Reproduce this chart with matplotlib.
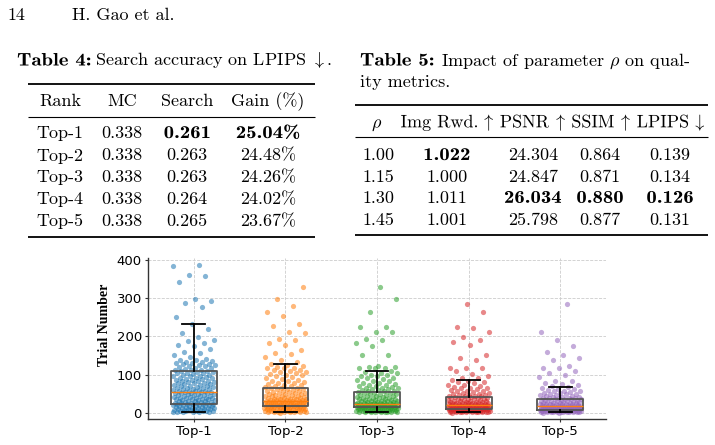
import matplotlib
matplotlib.use('Agg')
import matplotlib.pyplot as plt
import numpy as np
from matplotlib.textpath import TextPath
from matplotlib.patches import PathPatch
from matplotlib.font_manager import FontProperties
from matplotlib.transforms import Affine2D

plt.rcParams['mathtext.fontset'] = 'cm'

# ---------------- data ----------------
ranks = ['Top-1', 'Top-2', 'Top-3', 'Top-4', 'Top-5']
q1 = [24, 17, 15, 10, 8]
med = [54, 30, 23, 21, 17]
q3 = [109, 64, 54, 41, 37]
whis_lo = [1, 1, 1, 1, 1]
whis_hi = [233, 128, 110, 86, 67]

trials_top1 = [386, 384, 360, 356, 341, 297, 291, 287, 276, 251,
               233, 219, 208, 199, 190, 188, 183, 176, 174, 167, 158, 156, 151, 145, 141, 137, 134, 133,
               130, 127, 126, 123, 121, 117, 115, 113, 112, 110,
               108, 106, 105, 103, 101, 98, 97, 95, 92, 90, 89, 86, 84, 82, 80, 79, 77, 75, 73, 71,
               69, 67, 66, 64, 62, 61, 60, 58, 57, 56, 55, 54,
               53, 52, 51, 50, 48, 47, 46, 45, 44, 42, 41, 40, 39, 38, 37, 36, 35, 34, 33, 32,
               31, 30, 29, 28, 28, 27, 26, 25, 25, 24,
               23, 22, 21, 21, 20, 19, 18, 17, 17, 16, 15, 14, 13, 12, 12, 11, 10, 9, 8, 8,
               7, 6, 5, 5, 4, 3, 3, 2, 2, 1,
               139, 136, 131, 128, 125, 119, 116, 111, 107, 104, 100, 96, 94, 91, 88, 85, 83, 81,
               78, 76, 74, 70, 68, 65, 63, 59, 57, 55, 52, 49, 46, 43, 40, 38, 35, 33, 30, 27,
               24, 22, 20, 18, 16, 14, 11, 9, 7, 5, 4, 2]
trials_top2 = [328, 297, 278, 264, 252, 232, 226, 212, 208, 193, 189, 183, 176, 163, 157, 154, 145, 137, 133,
               128, 124, 121, 119, 117, 116, 113, 110, 107, 104, 101, 98, 95, 91, 88, 84, 82, 80, 77, 75,
               72, 70, 68, 66, 65,
               63, 62, 60, 58, 57, 55, 54, 52, 51, 49, 48, 47, 45, 44, 43, 42, 41, 40, 39, 38,
               37, 36, 36, 35, 34, 33, 33, 32, 31, 31, 30, 30,
               30, 29, 29, 28, 28, 27, 27, 26, 26, 25, 25, 24, 24, 23, 23, 22, 22, 21, 21, 20,
               20, 19, 19, 18, 18, 17, 17,
               16, 16, 15, 14, 14, 13, 12, 12, 11, 10, 10, 9, 8, 8, 7, 6, 6, 5, 5, 4,
               3, 3, 2, 2, 1, 1, 0,
               118, 112, 106, 99, 93, 86, 79, 74, 69, 64, 61, 56, 53, 50, 46, 43, 40, 38, 35, 34,
               32, 29, 27, 26, 24, 23, 21, 20, 19, 18, 17, 16, 15, 13, 12, 11, 10, 9, 8, 7,
               6, 5, 4, 3, 2]
trials_top3 = [328, 297, 264, 225, 224, 212, 211, 193, 189, 183, 174, 151, 150, 122, 120, 119, 118, 117, 116,
               110, 107, 104, 100, 97, 95, 92, 88, 85, 82, 79, 76, 74, 72, 70, 68, 66, 64, 62, 61,
               59, 57, 56, 55,
               53, 52, 50, 49, 47, 46, 45, 43, 42, 40, 39, 38, 37, 36, 35, 34, 33, 32, 31, 30,
               29, 28, 28, 27, 26, 26, 25, 24, 24, 23,
               23, 22, 22, 22, 21, 21, 20, 20, 20, 19, 19, 19, 18, 18, 18, 17, 17, 17, 16, 16,
               16, 15, 15,
               15, 14, 14, 13, 13, 12, 12, 11, 11, 10, 10, 9, 9, 8, 8, 7, 7, 6, 6, 5,
               5, 4, 4, 3, 3, 2, 2, 1, 1,
               105, 98, 90, 83, 77, 71, 65, 60, 56, 52, 48, 44, 41, 38, 36, 34, 32, 30, 28, 27,
               25, 24, 22, 21, 20, 19, 18, 17, 16, 15, 14, 13, 12, 11, 10, 9, 8, 7, 6, 5,
               4, 3, 2, 1]
trials_top4 = [284, 264, 225, 221, 212, 197, 189, 186, 176, 150, 143, 137, 117, 117, 116, 110, 101, 97, 92, 90,
               86, 83, 80, 77, 74, 71, 68, 66, 64, 62, 60, 58, 56, 54, 52, 50, 48, 47, 46, 45,
               44, 43, 42,
               41, 40, 39, 38, 37, 36, 35, 34, 33, 32, 31, 30, 29, 28, 28, 27, 26, 26, 25, 25,
               24, 24, 23, 23, 22, 22, 21, 21,
               21, 20, 20, 19, 19, 18, 18, 17, 17, 16, 16, 16, 15, 15, 15, 14, 14, 14, 13, 13,
               13, 12, 12, 12, 11, 11, 11, 10, 10, 10,
               10, 9, 9, 9, 8, 8, 8, 7, 7, 7, 6, 6, 6, 5, 5, 5, 4, 4, 4, 3,
               3, 3, 2, 2, 2, 1, 1, 0,
               80, 72, 65, 58, 52, 47, 43, 40, 37, 34, 31, 29, 27, 25, 23, 22, 20, 19, 18, 17,
               16, 15, 14, 13, 12, 11, 10, 9, 8, 7, 6, 5, 4, 3, 2, 1]
trials_top5 = [284, 212, 189, 174, 160, 151, 143, 137, 123, 117, 117, 110, 104, 100, 93, 84, 82, 78, 75, 72, 70,
               67, 64, 62, 60, 58, 56, 54, 52, 50, 49, 48, 46, 45, 44, 42, 41, 40, 39, 38, 38,
               37, 36, 35, 34, 33, 32, 31, 30, 29, 28, 28, 27, 26, 26, 25, 24, 24, 23, 22, 22,
               21, 21, 20, 20, 19, 19, 18, 18, 17,
               17, 16, 16, 16, 15, 15, 15, 14, 14, 14, 13, 13, 13, 12, 12, 12, 11, 11, 11, 10,
               10, 10, 9, 9, 9, 8, 8,
               8, 8, 7, 7, 7, 6, 6, 6, 5, 5, 5, 4, 4, 4, 3, 3, 3, 2, 2, 2,
               1, 1, 1, 0, 0,
               63, 57, 51, 46, 42, 38, 35, 32, 30, 28, 26, 24, 22, 20, 19, 18, 17, 16, 15, 14,
               13, 12, 11, 10, 9, 8, 7, 6, 5, 4, 3, 2, 1]
trial_groups = [trials_top1, trials_top2, trials_top3, trials_top4, trials_top5]
colors = ['#1f77b4', '#ff7f0e', '#2ca02c', '#d62728', '#9467bd']

# Table 4
t4_header = ['Rank', 'MC', 'Search', 'Gain (%)']
t4_rank = ['Top-1', 'Top-2', 'Top-3', 'Top-4', 'Top-5']
t4_mc = ['0.338', '0.338', '0.338', '0.338', '0.338']
t4_search = ['0.261', '0.263', '0.263', '0.264', '0.265']
t4_gain = ['25.04%', '24.48%', '24.26%', '24.02%', '23.67%']
t4_best = 0

# Table 5
t5_header_rho = r'$\rho$'
t5_header_runs = ['Img Rwd.', r'$\uparrow$', 'PSNR', r'$\uparrow$', 'SSIM', r'$\uparrow$',
                  'LPIPS', r'$\downarrow$']
t5_rho = ['1.00', '1.15', '1.30', '1.45']
t5_img = ['1.022', '1.000', '1.011', '1.001']
t5_psnr = ['24.304', '24.847', '26.034', '25.798']
t5_ssim = ['0.864', '0.871', '0.880', '0.877']
t5_lpips = ['0.139', '0.134', '0.126', '0.131']
t5_best = [None, 0, 2, 2, 2]

# ---------------- figure ----------------
W, H = 715, 445
fig = plt.figure(figsize=(W / 100, H / 100), dpi=100)
fig.patch.set_facecolor('white')

ov = fig.add_axes([0, 0, 1, 1])
ov.set_xlim(0, W)
ov.set_ylim(H, 0)
ov.axis('off')

FS = 13
EM = FS * 100 / 72
BOLD_FP = FontProperties(family='cmb10')
REG_FP = FontProperties(family='cmr10')
SX = 1.15  # widen bold glyphs toward bold-extended proportions


def txt(x, y, s, ha='center', **kw):
    return ov.text(x, y, s, fontsize=FS, family='cmr10', ha=ha, va='baseline', **kw)


def path_txt(x, y, s, fp, ha='center', sx=1.0):
    tp = TextPath((0, 0), s, size=EM, prop=fp)
    ext = tp.get_extents()
    if ha == 'center':
        shift = (ext.x0 + ext.x1) / 2 * sx
    elif ha == 'ink-left':
        shift = ext.x0 * sx
    else:
        shift = 0
    tr = Affine2D().scale(sx, -1).translate(x - shift, y) + ov.transData
    ov.add_patch(PathPatch(tp, transform=tr, fc='black', lw=0))
    return (ext.x1 - ext.x0) * sx


def btxt(x, y, s, ha='center'):
    path_txt(x, y, s, BOLD_FP, ha=ha, sx=SX)


def ink_width(s, fp):
    e = TextPath((0, 0), s, size=EM, prop=fp).get_extents()
    return e.x1 - e.x0


def rule(x0, x1, y, lw):
    ov.plot([x0, x1], [y, y], color='black', lw=lw, solid_capstyle='butt')


def justify_runs(runs, x0, x1, y):
    widths = [ink_width(r, REG_FP) for r in runs]
    gap = (x1 - x0 - sum(widths)) / (len(runs) - 1)
    x = x0
    for r, w in zip(runs, widths):
        path_txt(x, y, r, REG_FP, ha='ink-left')
        x += w + gap


# page header
txt(7, 20, '14', ha='left')
txt(72, 20, 'H. Gao et al.', ha='left')

# Table 4
btxt(17, 65.5, 'Table 4:', ha='left')
txt(95, 65.5, r'Search accuracy on LPIPS $\downarrow$.', ha='left')
rule(28, 315, 84, 1.3)
rule(28, 315, 116.7, 0.8)
rule(28, 315, 236.5, 1.3)
t4_cols = [60, 122, 187, 268]
for cx, h in zip(t4_cols, t4_header):
    txt(cx, 106, h)
t4_rows = [138, 160.5, 182.3, 204.2, 226]
for i, yy in enumerate(t4_rows):
    txt(t4_cols[0], yy, t4_rank[i])
    txt(t4_cols[1], yy, t4_mc[i])
    if i == t4_best:
        btxt(t4_cols[2], yy, t4_search[i])
        btxt(t4_cols[3], yy, t4_gain[i])
    else:
        txt(t4_cols[2], yy, t4_search[i])
        txt(t4_cols[3], yy, t4_gain[i])

# Table 5
btxt(360, 65.5, 'Table 5:', ha='left')
txt(441, 65.5, r'Impact of parameter $\rho$ on qual-', ha='left')
txt(360, 86.5, 'ity metrics.', ha='left')
rule(355, 708, 105, 1.3)
rule(355, 708, 137.3, 0.8)
rule(355, 708, 235, 1.3)
txt(377, 127.3, t5_header_rho)
justify_runs(t5_header_runs, 401, 704, 127.3)
t5_cols = [378.5, 447, 533, 600, 670]
t5_rows = [160, 181.7, 202.8, 225]
t5_data = [t5_rho, t5_img, t5_psnr, t5_ssim, t5_lpips]
for i, yy in enumerate(t5_rows):
    for j, col in enumerate(t5_data):
        if t5_best[j] == i:
            btxt(t5_cols[j], yy, col[i])
        else:
            txt(t5_cols[j], yy, col[i])

# ---------------- box plot ----------------
ax = fig.add_axes([148 / W, (H - 419) / H, 458 / W, 161 / H])
pos = np.arange(1, len(ranks) + 1)

for i, vals in enumerate(trial_groups):
    v = np.sort(np.asarray(vals, dtype=float))
    k = np.arange(len(v))
    off = ((k * 0.6180339887 + 0.37 * i) % 1.0 - 0.5) * 0.46
    ax.scatter(pos[i] + off, v, s=14, color=colors[i], alpha=0.55,
               linewidths=0, zorder=2)

stats = [dict(med=med[i], q1=q1[i], q3=q3[i], whislo=whis_lo[i], whishi=whis_hi[i],
              fliers=[], label=ranks[i]) for i in range(len(ranks))]
ax.bxp(stats, positions=pos, widths=0.5, showfliers=False,
       boxprops=dict(color='#555555', lw=1.3),
       whiskerprops=dict(color='black', lw=1.3),
       capprops=dict(color='black', lw=1.3),
       medianprops=dict(color='#ff7f0e', lw=1.0),
       zorder=3)

ax.set_xlim(0.5, 5.5)
ax.set_ylim(-16, 404)
ax.set_xticks(pos)
ax.set_xticklabels(ranks)
ax.set_yticks([0, 100, 200, 300, 400])
ax.tick_params(axis='both', labelsize=9.5, length=2.5, width=0.8, pad=2, color='#333333')
ax.grid(True, ls='--', lw=0.6, color='#cccccc')
ax.set_axisbelow(True)
for s in ['top', 'right']:
    ax.spines[s].set_visible(False)
for s in ['left', 'bottom']:
    ax.spines[s].set_color('#333333')
    ax.spines[s].set_linewidth(1.0)
ax.set_facecolor('none')

ov.text(105, 324.5, 'Trial Number', rotation=90, family='Liberation Serif',
        weight='bold', fontsize=10, ha='center', va='center')

fig.savefig('out.png', dpi=100, facecolor='white')
